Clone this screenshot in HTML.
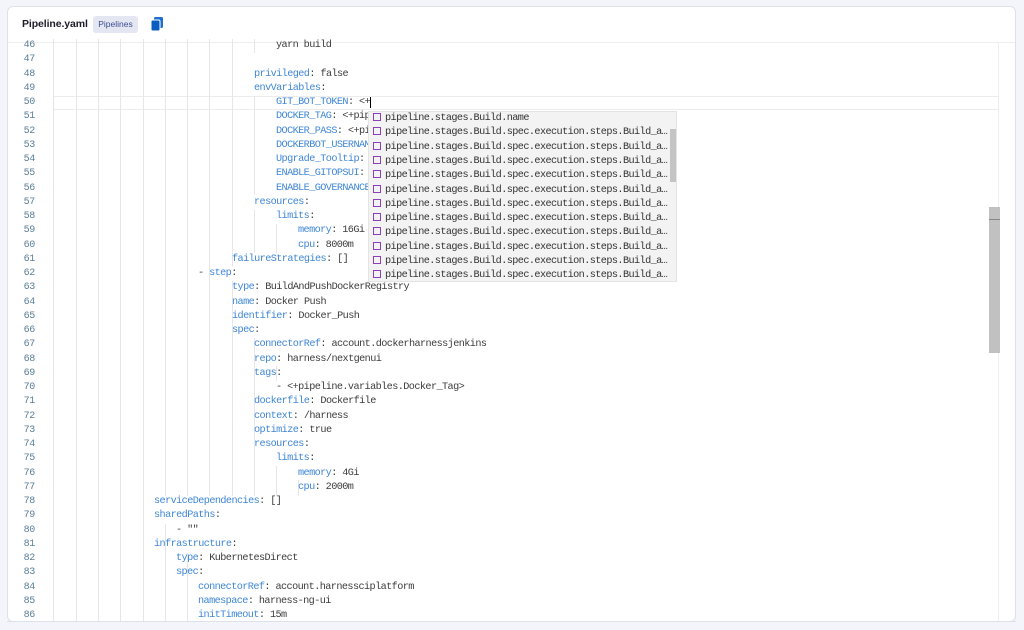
<!DOCTYPE html>
<html><head><meta charset="utf-8"><style>
*{margin:0;padding:0;box-sizing:border-box}
body{width:1024px;height:630px;background:#f4f5fa;position:relative;overflow:hidden;font-family:"Liberation Sans",sans-serif}
.card{position:absolute;left:7px;top:6px;width:1009px;height:616px;background:#fff;border:1px solid #dfe1ea;border-radius:6px;overflow:hidden}
.hdr{position:absolute;left:0;top:0;width:1009px;height:36px;border-bottom:1px solid #eceef2}
.title{position:absolute;left:14px;top:11px;font-size:10.5px;font-weight:bold;color:#1c1c28;letter-spacing:-0.1px}
.badge{position:absolute;left:85px;top:9px;width:45px;height:17px;background:#e4e6f2;border-radius:3px;font-size:8.5px;color:#3a4d8f;text-align:center;line-height:17px}
.cp{position:absolute;left:143px;top:10px;width:12px;height:14px}
.l{position:absolute;font-family:"Liberation Mono",monospace;font-size:10.2px;letter-spacing:-0.58px;line-height:14px;white-space:pre;color:#3c3c3c}
.n{position:absolute;left:0;width:35px;text-align:right;font-family:"Liberation Mono",monospace;font-size:10px;line-height:14px;color:#5b7e99;letter-spacing:-0.3px}
.k{color:#3f86d6}
.g{position:absolute;width:1px;background:#e6e6e6}
.pop{position:absolute;left:368px;top:111px;width:309px;height:171px;background:#f3f3f3;border:1px solid #e4e4e4}
.pr{position:absolute;left:4px;font-family:"Liberation Mono",monospace;font-size:10.2px;letter-spacing:-0.58px;line-height:14.3px;white-space:pre;color:#333}
.pr i{display:inline-block;width:8px;height:8px;border:1.3px solid #8b3fb8;margin-right:4px;vertical-align:-1px}
</style></head><body>
<div class="card">
<div class="hdr">
<div class="title">Pipeline.yaml</div>
<div class="badge">Pipelines</div>
<svg class="cp" viewBox="0 0 12 14"><rect x="3" y="0" width="9" height="11" rx="1.5" fill="#1f6fd1"/><rect x="0" y="3" width="9" height="11" rx="1.5" fill="#0b5cbf" stroke="#fff" stroke-width="1"/></svg>
</div>
</div>
<div style="position:absolute;left:998px;top:42px;width:1px;height:580px;background:#eeeeee"></div>
<div style="position:absolute;left:989px;top:207px;width:11px;height:146px;background:#c1c1c1"></div>
<div style="position:absolute;left:989px;top:219px;width:11px;height:1px;background:#888"></div>
<div style="position:absolute;left:53px;top:96px;width:946px;height:14px;border:1px solid #ececec"></div>
<div class="g" style="left:53px;top:39px;height:583px"></div>
<div class="g" style="left:76px;top:39px;height:583px"></div>
<div class="g" style="left:98px;top:39px;height:583px"></div>
<div class="g" style="left:120px;top:39px;height:583px"></div>
<div class="g" style="left:143px;top:39px;height:583px"></div>
<div class="g" style="left:165px;top:39px;height:457px"></div>
<div class="g" style="left:165px;top:524px;height:98px"></div>
<div class="g" style="left:187px;top:39px;height:457px"></div>
<div class="g" style="left:187px;top:553px;height:69px"></div>
<div class="g" style="left:209px;top:39px;height:457px"></div>
<div class="g" style="left:232px;top:39px;height:227px"></div>
<div class="g" style="left:232px;top:281px;height:215px"></div>
<div class="g" style="left:254px;top:39px;height:14px"></div>
<div class="g" style="left:254px;top:96px;height:99px"></div>
<div class="g" style="left:254px;top:210px;height:43px"></div>
<div class="g" style="left:254px;top:338px;height:158px"></div>
<div class="g" style="left:276px;top:224px;height:29px"></div>
<div class="g" style="left:276px;top:366px;height:15px"></div>
<div class="g" style="left:276px;top:466px;height:30px"></div>
<div class="g" style="left:298px;top:480px;height:16px"></div>
<div class="n" style="top:39px">46</div><div class="n" style="top:53.25px">47</div><div class="n" style="top:67.5px">48</div><div class="n" style="top:81.75px">49</div><div class="n" style="top:96px">50</div><div class="n" style="top:110.25px">51</div><div class="n" style="top:124.5px">52</div><div class="n" style="top:138.75px">53</div><div class="n" style="top:153px">54</div><div class="n" style="top:167.25px">55</div><div class="n" style="top:181.5px">56</div><div class="n" style="top:195.75px">57</div><div class="n" style="top:210px">58</div><div class="n" style="top:224.25px">59</div><div class="n" style="top:238.5px">60</div><div class="n" style="top:252.75px">61</div><div class="n" style="top:267px">62</div><div class="n" style="top:281.25px">63</div><div class="n" style="top:295.5px">64</div><div class="n" style="top:309.75px">65</div><div class="n" style="top:324px">66</div><div class="n" style="top:338.25px">67</div><div class="n" style="top:352.5px">68</div><div class="n" style="top:366.75px">69</div><div class="n" style="top:381px">70</div><div class="n" style="top:395.25px">71</div><div class="n" style="top:409.5px">72</div><div class="n" style="top:423.75px">73</div><div class="n" style="top:438px">74</div><div class="n" style="top:452.25px">75</div><div class="n" style="top:466.5px">76</div><div class="n" style="top:480.75px">77</div><div class="n" style="top:495px">78</div><div class="n" style="top:509.25px">79</div><div class="n" style="top:523.5px">80</div><div class="n" style="top:537.75px">81</div><div class="n" style="top:552px">82</div><div class="n" style="top:566.25px">83</div><div class="n" style="top:580.5px">84</div><div class="n" style="top:594.75px">85</div><div class="n" style="top:609px">86</div>
<div class="l" style="left:276px;top:39px">yarn build</div>
<div class="l" style="left:254px;top:67.5px"><span class="k">privileged</span>: false</div>
<div class="l" style="left:254px;top:81.75px"><span class="k">envVariables</span>:</div>
<div class="l" style="left:276px;top:96px"><span class="k">GIT_BOT_TOKEN</span>: &lt;+<span style="border-left:1px solid #000"></span></div>
<div class="l" style="left:276px;top:110.25px"><span class="k">DOCKER_TAG</span>: &lt;+pip</div>
<div class="l" style="left:276px;top:124.5px"><span class="k">DOCKER_PASS</span>: &lt;+pi</div>
<div class="l" style="left:276px;top:138.75px"><span class="k">DOCKERBOT_USERNAM</span></div>
<div class="l" style="left:276px;top:153px"><span class="k">Upgrade_Tooltip</span>:</div>
<div class="l" style="left:276px;top:167.25px"><span class="k">ENABLE_GITOPSUI</span>:</div>
<div class="l" style="left:276px;top:181.5px"><span class="k">ENABLE_GOVERNANCE</span></div>
<div class="l" style="left:254px;top:195.75px"><span class="k">resources</span>:</div>
<div class="l" style="left:276px;top:210px"><span class="k">limits</span>:</div>
<div class="l" style="left:298px;top:224.25px"><span class="k">memory</span>: 16Gi</div>
<div class="l" style="left:298px;top:238.5px"><span class="k">cpu</span>: 8000m</div>
<div class="l" style="left:232px;top:252.75px"><span class="k">failureStrategies</span>: []</div>
<div class="l" style="left:198px;top:267px">- <span class="k">step</span>:</div>
<div class="l" style="left:232px;top:281.25px"><span class="k">type</span>: BuildAndPushDockerRegistry</div>
<div class="l" style="left:232px;top:295.5px"><span class="k">name</span>: Docker Push</div>
<div class="l" style="left:232px;top:309.75px"><span class="k">identifier</span>: Docker_Push</div>
<div class="l" style="left:232px;top:324px"><span class="k">spec</span>:</div>
<div class="l" style="left:254px;top:338.25px"><span class="k">connectorRef</span>: account.dockerharnessjenkins</div>
<div class="l" style="left:254px;top:352.5px"><span class="k">repo</span>: harness/nextgenui</div>
<div class="l" style="left:254px;top:366.75px"><span class="k">tags</span>:</div>
<div class="l" style="left:276px;top:381px">- &lt;+pipeline.variables.Docker_Tag&gt;</div>
<div class="l" style="left:254px;top:395.25px"><span class="k">dockerfile</span>: Dockerfile</div>
<div class="l" style="left:254px;top:409.5px"><span class="k">context</span>: /harness</div>
<div class="l" style="left:254px;top:423.75px"><span class="k">optimize</span>: true</div>
<div class="l" style="left:254px;top:438px"><span class="k">resources</span>:</div>
<div class="l" style="left:276px;top:452.25px"><span class="k">limits</span>:</div>
<div class="l" style="left:298px;top:466.5px"><span class="k">memory</span>: 4Gi</div>
<div class="l" style="left:298px;top:480.75px"><span class="k">cpu</span>: 2000m</div>
<div class="l" style="left:154px;top:495px"><span class="k">serviceDependencies</span>: []</div>
<div class="l" style="left:154px;top:509.25px"><span class="k">sharedPaths</span>:</div>
<div class="l" style="left:176px;top:523.5px">- ""</div>
<div class="l" style="left:154px;top:537.75px"><span class="k">infrastructure</span>:</div>
<div class="l" style="left:176px;top:552px"><span class="k">type</span>: KubernetesDirect</div>
<div class="l" style="left:176px;top:566.25px"><span class="k">spec</span>:</div>
<div class="l" style="left:198px;top:580.5px"><span class="k">connectorRef</span>: account.harnessciplatform</div>
<div class="l" style="left:198px;top:594.75px"><span class="k">namespace</span>: harness-ng-ui</div>
<div class="l" style="left:198px;top:609px"><span class="k">initTimeout</span>: 15m</div>
<div style="position:absolute;left:0;top:622px;width:1024px;height:8px;background:#f4f5fa"></div>
<div style="position:absolute;left:7px;top:621px;width:1009px;height:1px;background:#dfe1ea"></div>
<div class="pop">
<div class="pr" style="top:0px"><i></i>pipeline.stages.Build.name</div>
<div class="pr" style="top:14.3px"><i></i>pipeline.stages.Build.spec.execution.steps.Build_a…</div>
<div class="pr" style="top:28.6px"><i></i>pipeline.stages.Build.spec.execution.steps.Build_a…</div>
<div class="pr" style="top:42.9px"><i></i>pipeline.stages.Build.spec.execution.steps.Build_a…</div>
<div class="pr" style="top:57.2px"><i></i>pipeline.stages.Build.spec.execution.steps.Build_a…</div>
<div class="pr" style="top:71.5px"><i></i>pipeline.stages.Build.spec.execution.steps.Build_a…</div>
<div class="pr" style="top:85.8px"><i></i>pipeline.stages.Build.spec.execution.steps.Build_a…</div>
<div class="pr" style="top:100.1px"><i></i>pipeline.stages.Build.spec.execution.steps.Build_a…</div>
<div class="pr" style="top:114.4px"><i></i>pipeline.stages.Build.spec.execution.steps.Build_a…</div>
<div class="pr" style="top:128.7px"><i></i>pipeline.stages.Build.spec.execution.steps.Build_a…</div>
<div class="pr" style="top:143px"><i></i>pipeline.stages.Build.spec.execution.steps.Build_a…</div>
<div class="pr" style="top:157.3px"><i></i>pipeline.stages.Build.spec.execution.steps.Build_a…</div>
<div style="position:absolute;left:301px;top:17px;width:6px;height:53px;background:#c4c4c4"></div>
</div>
</body></html>
